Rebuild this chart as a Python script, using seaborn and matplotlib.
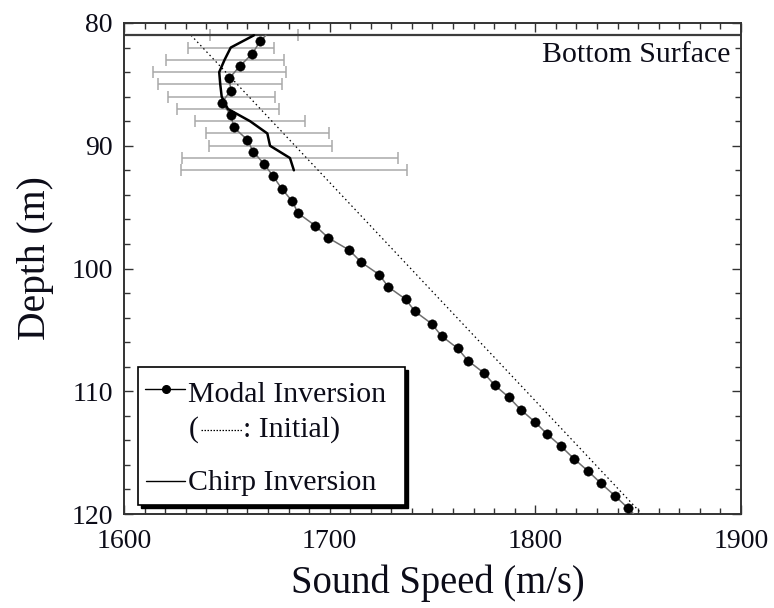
import numpy as np
import pandas as pd
import matplotlib
matplotlib.use("Agg")
import matplotlib.pyplot as plt
from matplotlib.lines import Line2D
from matplotlib.patches import Rectangle
from matplotlib.ticker import MultipleLocator
import seaborn as sns

# ---------------- data ----------------
modal_depth = [81.5, 82.5, 83.5, 84.5, 85.5, 86.5, 87.5, 88.5, 89.5, 90.5,
               91.5, 92.5, 93.5, 94.5, 95.5, 96.5, 97.5, 98.5, 99.5, 100.5,
               101.5, 102.5, 103.5, 104.5, 105.5, 106.5, 107.5, 108.5, 109.5, 110.5,
               111.5, 112.5, 113.5, 114.5, 115.5, 116.5, 117.5, 118.5, 119.5]
modal_speed = [1666.1, 1662.4, 1656.4, 1651.2, 1651.9, 1647.5, 1652.1, 1653.3, 1659.9, 1662.9,
               1668.2, 1672.6, 1676.7, 1681.7, 1684.7, 1692.9, 1699.3, 1709.5, 1715.4, 1724.1,
               1728.5, 1736.9, 1741.5, 1749.6, 1754.4, 1762.2, 1767.2, 1774.9, 1780.2, 1787.2,
               1792.9, 1799.8, 1805.8, 1812.6, 1818.8, 1825.6, 1831.9, 1838.6, 1844.9]
# modal profile line end points (line continues to the top/bottom without markers)
modal_end_depth = [81.0, 120.0]
modal_end_speed = [1669.0, 1847.8]

initial_depth = [81.0, 120.0]
initial_speed = [1632.6, 1851.8]

chirp_depth = [81, 82, 83, 84, 85, 86, 87, 88, 89, 90, 91, 92]
chirp_speed = [1663.2, 1651.9, 1648.9, 1646.3, 1646.8, 1647.5, 1650.5, 1661.3, 1669.7, 1671.0, 1680.7, 1682.6]
chirp_err = [21.5, 21.0, 28.7, 32.4, 30.2, 25.9, 24.8, 26.8, 29.8, 29.9, 52.5, 54.9]

bottom_surface_depth = 81.0

x_ticks = [1600, 1700, 1800, 1900]
y_ticks = [80, 90, 100, 110, 120]

# ---------------- style ----------------
sns.set_theme(style="ticks")
plt.rcParams['font.family'] = ['Liberation Serif', 'DejaVu Serif']
text_color = "#0c0c18"

fig = plt.figure(figsize=(7.74, 6.08), dpi=100)
ax = fig.add_axes([124 / 774, 1 - 514 / 608, 617 / 774, 491 / 608])

# modal line (gray) and dots
line_df = pd.DataFrame({
    "speed": [modal_end_speed[0]] + modal_speed + [modal_end_speed[1]],
    "depth": [modal_end_depth[0]] + modal_depth + [modal_end_depth[1]],
})
sns.lineplot(data=line_df, x="speed", y="depth", sort=False, estimator=None,
             color="#6e6e6e", linewidth=1.1, ax=ax, zorder=3)
sns.scatterplot(x=modal_speed, y=modal_depth, color="black", s=46,
                edgecolor="black", linewidth=0.3, ax=ax, zorder=4)

# initial (dotted)
sns.lineplot(x=initial_speed, y=initial_depth, sort=False, estimator=None,
             color="black", linewidth=0.9, linestyle=(0, (1.2, 2.4)), ax=ax, zorder=2)

# chirp inversion with error bars
ax.errorbar(chirp_speed, chirp_depth, xerr=chirp_err, fmt="none",
            ecolor="#a9a9a9", elinewidth=1.1, capsize=4.5, capthick=1.1, zorder=1)
sns.lineplot(x=chirp_speed, y=chirp_depth, sort=False, estimator=None,
             color="black", linewidth=1.8, ax=ax, zorder=5)

# bottom surface line
ax.axhline(bottom_surface_depth, color="#3c3c3c", linewidth=1.6, zorder=2)
ax.text(0.677, 0.921, "Bottom Surface", transform=ax.transAxes, fontsize=21.5,
        color=text_color, ha="left", va="baseline")

# axes
ax.set_xlim(1600, 1900)
ax.set_ylim(120, 80)
ax.set_xticks(x_ticks)
ax.set_yticks(y_ticks)
ax.xaxis.set_minor_locator(MultipleLocator(10))
ax.yaxis.set_minor_locator(MultipleLocator(2))
ax.tick_params(which="both", direction="in", top=True, right=True,
               color="#333333", width=1.0)
ax.tick_params(which="major", length=6.5)
ax.tick_params(which="minor", length=4)
ax.tick_params(axis="x", which="major", pad=11, labelsize=20, labelcolor=text_color)
ax.tick_params(axis="y", which="major", pad=8, labelsize=20, labelcolor=text_color)
for sp in ax.spines.values():
    sp.set_color("#333333")
    sp.set_linewidth(1.4)

ax.set_xlabel("Sound Speed (m/s)", fontsize=27.8, color=text_color, labelpad=7.5)
ax.set_ylabel("Depth (m)", fontsize=28.5, color=text_color, labelpad=12.5)
ax.xaxis.label.set_x(0.508)
ax.yaxis.label.set_y(0.522)

# ---------------- legend (drawn manually, axes coordinates) ----------------
def fx(px):
    return (px - 124) / 617

def fy(py):
    return (514 - py) / 491

bx0, bx1, by0, by1 = fx(138), fx(405), fy(505), fy(367)
ax.add_patch(Rectangle((bx0 + 3 / 617, by0 - 3 / 491), bx1 - bx0, by1 - by0,
                       transform=ax.transAxes, facecolor="black", edgecolor="black",
                       linewidth=1, zorder=6))
ax.add_patch(Rectangle((bx0, by0), bx1 - bx0, by1 - by0, transform=ax.transAxes,
                       facecolor="white", edgecolor="black", linewidth=1.2, zorder=7))
ax.add_line(Line2D([fx(145), fx(185)], [fy(389), fy(389)], transform=ax.transAxes,
                   color="black", linewidth=1.0, zorder=8))
ax.add_line(Line2D([fx(166)], [fy(389)], transform=ax.transAxes, marker="o",
                   markersize=5.5, color="black", zorder=8))
ax.text(fx(188), fy(401.5), "Modal Inversion", transform=ax.transAxes, fontsize=21.5,
        color=text_color, ha="left", va="baseline", zorder=8)
ax.text(fx(189), fy(437), "(", transform=ax.transAxes, fontsize=21.5,
        color=text_color, ha="left", va="baseline", zorder=8)
ax.add_line(Line2D([fx(201), fx(243)], [fy(430), fy(430)], transform=ax.transAxes,
                   color="black", linewidth=0.9, linestyle=(0, (1.2, 1.2)), zorder=8))
ax.text(fx(243), fy(437), ": Initial)", transform=ax.transAxes, fontsize=21.5,
        color=text_color, ha="left", va="baseline", zorder=8)
ax.add_line(Line2D([fx(146), fx(185)], [fy(481), fy(481)], transform=ax.transAxes,
                   color="black", linewidth=1.0, zorder=8))
ax.text(fx(188), fy(490), "Chirp Inversion", transform=ax.transAxes, fontsize=21.5,
        color=text_color, ha="left", va="baseline", zorder=8)

fig.savefig("out.png", dpi=100)
